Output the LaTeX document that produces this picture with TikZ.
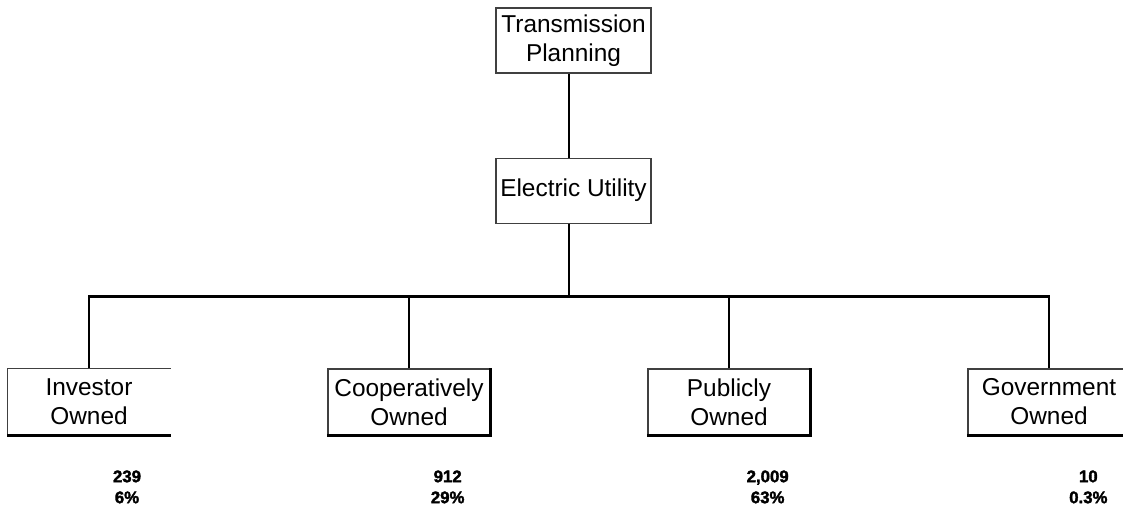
\documentclass[tikz,border=0pt]{standalone}
\usepackage{fontspec}
\setmainfont{Liberation Sans}
\newfontfamily\statfont[FakeBold=2]{Liberation Sans Bold}
\usepackage{tikz}
\usetikzlibrary{positioning, calc}

\begin{document}
\begin{tikzpicture}[
    x=0.75pt, y=-0.75pt,
    box/.style={rectangle, draw=black!75, line width=0.8pt, minimum width=116.25pt, minimum height=48.75pt, align=center, inner sep=0pt, font=\fontsize{18.3}{21.75}\selectfont},
    leaf/.style={box, line width=1pt, minimum width=121.5pt, minimum height=49.5pt},
    thinedge/.style={draw=black!75, line width=1pt},
    heavyedge/.style={line width=2.25pt},
    link/.style={line width=2.1pt},
    stat/.style={align=center, inner sep=0pt, font=\fontsize{12.6}{15.75}\statfont}
]
\useasboundingbox (0,0) rectangle (1123,506);

% 1. Top of the tree
\node[box] (plan) at (573.5, 40.5) {Transmission\\Planning};
\node[box, below=63pt of plan] (util) {Electric Utility};
\coordinate[below=54.75pt of util.south, xshift=-3.4pt] (bus);

% 2. Ownership types
\node[leaf, draw=none] (inv) at (89, 402) {Investor\\Owned};
\node[leaf] (coop) at (409, 402) {Cooperatively\\Owned};
\node[leaf] (pub) at (729, 402) {Publicly\\Owned};
\node[leaf] (gov) at (1049, 402) {Government\\Owned};

\draw[thinedge] (inv.north east) -- (inv.north west) -- (inv.south west);
\draw[heavyedge] (inv.south west) -- (inv.south east);
\draw[heavyedge] (coop.north east) -- (coop.south east) -- (coop.south west);
\draw[heavyedge] (pub.north east) -- (pub.south east) -- (pub.south west);
\draw[heavyedge] (gov.north east) -- (gov.south east) -- (gov.south west);

% 3. Counts and shares
\node[stat, below=25.9pt of inv, xshift=28.5pt] (invn) {239\\6\%};
\node[stat, below=25.9pt of coop, xshift=29pt] (coopn) {912\\29\%};
\node[stat, below=25.9pt of pub, xshift=29pt] (pubn) {2,009\\63\%};
\node[stat, below=25.9pt of gov, xshift=29.5pt] (govn) {10\\0.3\%};

\draw[link] (bus |- plan.south) -- (bus |- util.north);
\draw[link] (bus |- util.south) -- (bus);
\draw[link] (inv.north) |- (bus) -| (gov.north);
\draw[link] (coop.north) -- (coop.north |- bus);
\draw[link] (pub.north) -- (pub.north |- bus);

\end{tikzpicture}
\end{document}
